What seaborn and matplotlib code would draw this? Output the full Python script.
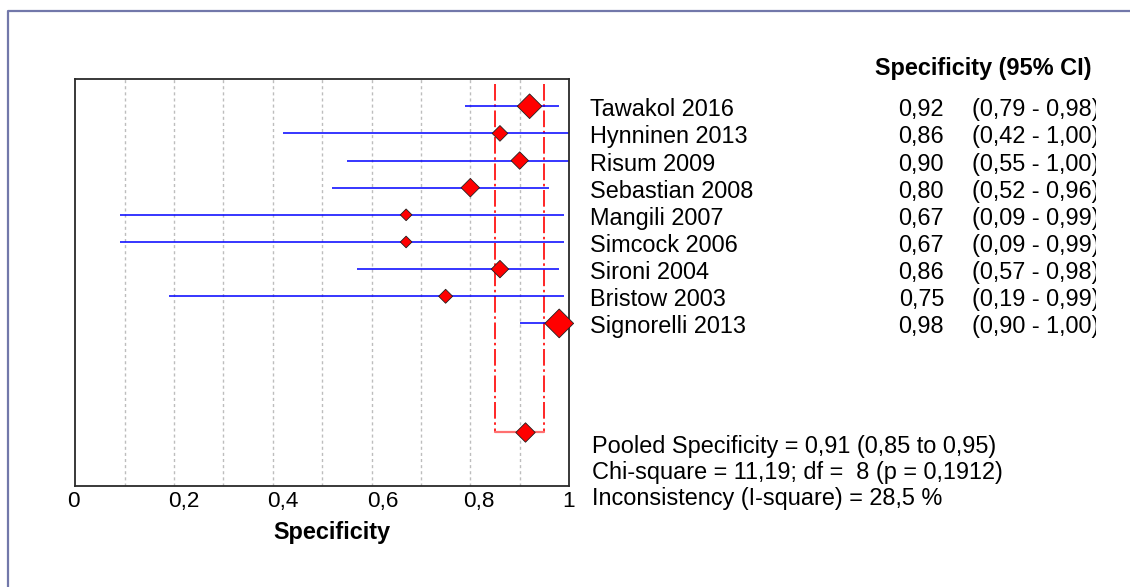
import numpy as np
import pandas as pd
import matplotlib
matplotlib.use("Agg")
import matplotlib.pyplot as plt
import matplotlib.transforms as mtransforms
from matplotlib.lines import Line2D
import seaborn as sns

# ---------------- data ----------------
studies = ["Tawakol 2016", "Hynninen 2013", "Risum 2009", "Sebastian 2008",
           "Mangili 2007", "Simcock 2006", "Sironi 2004", "Bristow 2003",
           "Signorelli 2013"]
spec = [0.92, 0.86, 0.90, 0.80, 0.67, 0.67, 0.86, 0.75, 0.98]
ci_lo = [0.79, 0.42, 0.55, 0.52, 0.09, 0.09, 0.57, 0.19, 0.90]
ci_hi = [0.98, 1.00, 1.00, 0.96, 0.99, 0.99, 0.98, 0.99, 1.00]
weights = [19.6, 7.9, 9.8, 11.0, 4.4, 4.4, 9.8, 6.3, 26.7]

pooled = 0.91
pooled_lo = 0.85
pooled_hi = 0.95

xticks = [0, 0.2, 0.4, 0.6, 0.8, 1.0]
xtick_labels = ["0", "0,2", "0,4", "0,6", "0,8", "1"]
header = "Specificity (95% CI)"
xlabel = "Specificity"
stats_lines = ["Pooled Specificity = 0,91 (0,85 to 0,95)",
               "Chi-square = 11,19; df =  8 (p = 0,1912)",
               "Inconsistency (I-square) = 28,5 %"]

# ---------------- style ----------------
sns.set_style("white")
plt.rcParams["font.family"] = ["Liberation Sans", "DejaVu Sans"]
plt.rcParams["text.color"] = "black"
plt.rcParams["xtick.color"] = "black"
plt.rcParams["axes.labelcolor"] = "black"
FS = 16.9

W, H = 1130, 587
fig = plt.figure(figsize=(W / 100, H / 100), dpi=100)
fig.patch.set_facecolor("white")

def fx(px):
    return px / W

def fy(py):
    return 1 - py / H

ax_l, ax_r, ax_t, ax_b = 75.2, 569.1, 79.1, 486.3
ax = fig.add_axes([fx(ax_l), fy(ax_b), (ax_r - ax_l) / W, (ax_b - ax_t) / H])

n = len(studies)
rows = np.arange(n)
pooled_row = n + 3

df = pd.DataFrame({"study": studies, "spec": spec, "lo": ci_lo, "hi": ci_hi,
                   "weight": weights, "row": rows})

# grid lines at 0.1 steps
for g in np.arange(0.1, 1.0, 0.1):
    ax.axvline(g, color="#bdbdbd", lw=1.0, dashes=(2.2, 2.2), zorder=0)

# confidence intervals
ax.hlines(df["row"], df["lo"], df["hi"], color="#0000ff", lw=1.1, zorder=2)

# pooled CI band (red dash-dot)
top_row = -0.83
for xv in (pooled_lo, pooled_hi):
    ax.plot([xv, xv], [top_row, pooled_row], color="red", lw=1.2,
            dashes=(10, 2.2, 1.5, 2.2), zorder=1)
ax.plot([pooled_lo, pooled_hi], [pooled_row, pooled_row], color="#ff7070",
        lw=1.6, zorder=1)

# study diamonds
sns.scatterplot(data=df, x="spec", y="row", size="weight", sizes=(0, 215),
                size_norm=(0, max(weights)), marker="D", color="red",
                edgecolor="#202020", linewidth=0.6, legend=False, ax=ax,
                zorder=3, clip_on=False)
# pooled diamond
sns.scatterplot(x=[pooled], y=[pooled_row], marker="D", color="red",
                edgecolor="#202020", linewidth=0.6, s=98, legend=False, ax=ax,
                zorder=3, clip_on=False)

ax.set_xlim(0, 1)
ax.set_ylim(pooled_row + 2, -1)
ax.set_yticks([])
ax.set_ylabel("")
ax.set_xticks(xticks)
ax.set_xticklabels(xtick_labels, fontsize=16.2)
ax.tick_params(axis="x", length=0, pad=3.5, colors="black")
offsets = [-1.5, 9.5, 10, 11, 8.6, -0.5]
for lab, off in zip(ax.get_xticklabels(), offsets):
    lab.set_transform(lab.get_transform() +
                      mtransforms.ScaledTranslation(off / 100, 0, fig.dpi_scale_trans))
for s in ax.spines.values():
    s.set_color("#2a2a2a")
    s.set_linewidth(1.3)

ax.set_xlabel(xlabel, fontsize=FS, fontweight="bold", color="black")
ax.xaxis.label.set_va("baseline")
ax.xaxis.set_label_coords((332 - ax_l) / (ax_r - ax_l), (ax_b - 538.5) / (ax_b - ax_t))

# right-hand text table
blend = mtransforms.blended_transform_factory(fig.transFigure, ax.transData)
clip = mtransforms.TransformedBbox(mtransforms.Bbox([[0, 0], [fx(1096), 1]]),
                                   fig.transFigure)
base_off = 0.37
for r, name, v, lo, hi in zip(rows, studies, spec, ci_lo, ci_hi):
    y = r + base_off
    fig.text(fx(590.5), y, name, transform=blend, fontsize=FS, va="baseline",
             ha="left", color="black")
    fig.text(fx(944), y, f"{v:.2f}".replace(".", ","), transform=blend,
             fontsize=FS, va="baseline", ha="right", color="black")
    t = fig.text(fx(972.3), y,
                 "(" + f"{lo:.2f}".replace(".", ",") + " - " +
                 f"{hi:.2f}".replace(".", ",") + ")",
                 transform=blend, fontsize=FS, va="baseline", ha="left",
                 color="black")
    t.set_clip_box(clip)
    t.set_clip_on(True)

fig.text(fx(874.7), fy(75.5), header, fontsize=FS, fontweight="bold",
         va="baseline", ha="left", color="black")

for line, yb in zip(stats_lines, [452.5, 479.5, 505.5]):
    fig.text(fx(591.5), fy(yb), line, fontsize=FS, va="baseline", ha="left",
             color="black")

# outer frame (top and left only)
frame_col = "#7278aa"
fig.add_artist(Line2D([fx(8), fx(8), 1.0], [0.0, fy(11), fy(11)],
                      transform=fig.transFigure, color=frame_col, lw=1.6))

fig.savefig("out.png", dpi=100, facecolor="white")
